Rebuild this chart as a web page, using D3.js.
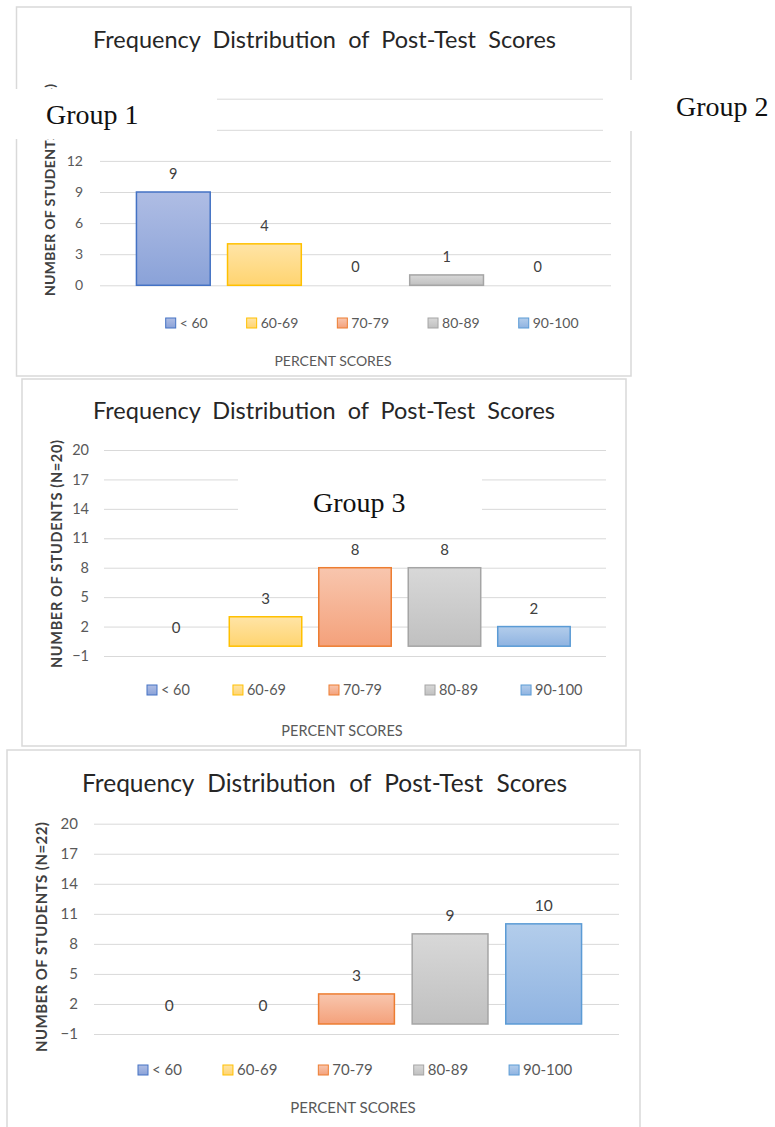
<!DOCTYPE html>
<html lang="en">
<head>
<meta charset="UTF-8">
<title>Frequency Distribution of Post-Test Scores</title>
<script src="https://d3js.org/d3.v7.min.js"></script>
<style>
  body { margin: 0; background: #fff; }
  svg { display: block; }
  text { font-family: Lato, "Open Sans", sans-serif; }
  .group-label { font-family: "Liberation Serif", "Times New Roman", serif; }
</style>
</head>
<body>
<svg id="chart" width="775" height="1127"></svg>
<script>
// data
const categories = ["< 60", "60-69", "70-79", "80-89", "90-100"];
const panel1Counts = [9, 4, 0, 1, 0];
const panel2Counts = [0, 3, 8, 8, 2];
const panel3Counts = [0, 0, 3, 9, 10];
const panel1Ticks = [0, 3, 6, 9, 12, 15, 18];
const panel2Ticks = [-1, 2, 5, 8, 11, 14, 17, 20];
const panel3Ticks = [-1, 2, 5, 8, 11, 14, 17, 20];
const chartTitle = "Frequency Distribution of Post-Test Scores";
const yTitles = ["NUMBER OF STUDENTS (N=14)", "NUMBER OF STUDENTS (N=20)", "NUMBER OF STUDENTS (N=22)"];
const xTitle = "PERCENT SCORES";
const groupLabels = ["Group 1", "Group 2", "Group 3"];

// Office palette, gradient fills
const strokeColors = ["#4472c4", "#ffc000", "#ed7d31", "#a5a5a5", "#5b9bd5"];
const topColors    = ["#afbde4", "#ffe4a6", "#f8c6ae", "#d8d8d8", "#b3cdeb"];
const bottomColors = ["#8aa2d8", "#ffd470", "#f4a17b", "#c0c0c0", "#8fb3e1"];

// layout of each panel (page pixels)
const layouts = [
  { box: [16.5, 7, 614.5, 369], titleX: 324.5, titleY: 40, titleW: 463, titleSize: 23.5,
    x0: 100, x1: 611, yBottom: 285.3, yTop: 98.7, tickRight: 83, fs: 14,
    coveredBelow: 139, coveredAbove: 89,
    legendX: 165.7, legendY: 323, legendGap: 39,
    xTitleX: 333, xTitleY: 361, yTitleX: 50, yTitleY: 190, yTitleLen: 212 },
  { box: [22, 379, 604, 367], titleX: 324, titleY: 411, titleW: 462, titleSize: 23.5,
    x0: 104, x1: 606, yBottom: 656, yTop: 450, tickRight: 89, fs: 14.5,
    coveredBelow: 0, coveredAbove: 0,
    legendX: 147, legendY: 690, legendGap: 43,
    xTitleX: 342, xTitleY: 731, yTitleX: 57, yTitleY: 554, yTitleLen: 228 },
  { box: [7, 750, 633, 400], titleX: 324.5, titleY: 783, titleW: 485, titleSize: 24.5,
    x0: 94, x1: 619, yBottom: 1034, yTop: 823.7, tickRight: 78, fs: 15,
    coveredBelow: 0, coveredAbove: 0,
    legendX: 138, legendY: 1070, legendGap: 41,
    xTitleX: 353, xTitleY: 1108, yTitleX: 42, yTitleY: 937, yTitleLen: 230 }
];

// white label boxes pasted over the charts
const labelBoxes = [
  { x: 0, y: 89, w: 217, h: 50, tx: 46, ty: 124 },
  { x: 603, y: 80, w: 172, h: 51, tx: 676, ty: 116 },
  { x: 238, y: 462, w: 244, h: 66, tx: 313, ty: 512 }
];

const svg = d3.select("#chart");
const defs = svg.append("defs");
categories.forEach((c, i) => {
  const grad = defs.append("linearGradient").attr("id", "grad" + i)
      .attr("x1", 0).attr("y1", 0).attr("x2", 0).attr("y2", 1);
  grad.append("stop").attr("offset", "0%").attr("stop-color", topColors[i]);
  grad.append("stop").attr("offset", "100%").attr("stop-color", bottomColors[i]);
});

function drawPanel(p, counts, ticks, yTitle) {
  const g = svg.append("g");

  g.append("rect").attr("class", "frame")
      .attr("x", p.box[0]).attr("y", p.box[1])
      .attr("width", p.box[2]).attr("height", p.box[3])
      .attr("fill", "#fff").attr("stroke", "#d9d9d9").attr("stroke-width", 1.5);

  // title, stretched with wide word gaps like the original
  const t = g.append("text")
      .attr("x", p.titleX).attr("y", p.titleY).attr("dy", "0.35em")
      .attr("text-anchor", "middle").attr("fill", "#262626")
      .style("font-size", p.titleSize + "px")
      .text(chartTitle);
  const natural = t.node().getComputedTextLength();
  const gaps = chartTitle.split(" ").length - 1;
  t.style("word-spacing", Math.max(0, (p.titleW - natural) / gaps) + "px");

  const y = d3.scaleLinear()
      .domain([ticks[0], ticks[ticks.length - 1]])
      .range([p.yBottom, p.yTop]);
  const x = d3.scaleBand().domain(categories)
      .range([p.x0, p.x1]).paddingInner(0.19).paddingOuter(0.4);

  const ax = g.append("g")
      .attr("transform", "translate(" + p.x0 + ",0)")
      .call(d3.axisLeft(y).tickValues(ticks)
          .tickSize(-(p.x1 - p.x0)).tickPadding(p.x0 - p.tickRight));
  ax.select(".domain").remove();
  ax.selectAll(".tick line").attr("stroke", "#d9d9d9");
  ax.selectAll(".tick text").attr("fill", "#595959").style("font-size", p.fs + "px");
  // labels that sit under a pasted label patch are not visible
  ax.selectAll(".tick text")
    .filter(v => y(v) > p.coveredAbove && y(v) < p.coveredBelow)
    .remove();

  const data = categories.map((c, i) => ({ cat: c, value: counts[i], i: i }));

  g.selectAll("rect.bar")
    .data(data.filter(d => d.value > 0))
    .join("rect")
      .attr("class", "bar")
      .attr("x", d => x(d.cat))
      .attr("width", x.bandwidth())
      .attr("y", d => y(d.value))
      .attr("height", d => y(0) - y(d.value))
      .attr("fill", d => "url(#grad" + d.i + ")")
      .attr("stroke", d => strokeColors[d.i])
      .attr("stroke-width", 1.5);

  g.selectAll("text.val")
    .data(data)
    .join("text")
      .attr("class", "val")
      .attr("x", d => x(d.cat) + x.bandwidth() / 2)
      .attr("y", d => y(d.value) - 18)
      .attr("dy", "0.35em")
      .attr("text-anchor", "middle")
      .attr("fill", "#404040")
      .style("font-size", (p.fs + 0.5) + "px")
      .text(d => d.value);

  // legend, laid out by text width
  let cx = p.legendX;
  categories.forEach((c, i) => {
    g.append("rect")
        .attr("x", cx).attr("y", p.legendY - 5)
        .attr("width", 10).attr("height", 10)
        .attr("fill", "url(#grad" + i + ")")
        .attr("stroke", strokeColors[i]).attr("stroke-width", 1);
    const lt = g.append("text")
        .attr("x", cx + 14).attr("y", p.legendY).attr("dy", "0.35em")
        .attr("fill", "#595959").style("font-size", p.fs + "px")
        .text(c);
    cx += 14 + lt.node().getComputedTextLength() + p.legendGap;
  });

  g.append("text")
      .attr("x", p.xTitleX).attr("y", p.xTitleY).attr("dy", "0.35em")
      .attr("text-anchor", "middle").attr("fill", "#595959")
      .style("font-size", p.fs + "px")
      .text(xTitle);

  g.append("text")
      .attr("transform", "translate(" + p.yTitleX + "," + p.yTitleY + ") rotate(-90)")
      .attr("dy", "0.35em")
      .attr("text-anchor", "middle").attr("fill", "#404040")
      .attr("textLength", p.yTitleLen).attr("lengthAdjust", "spacing")
      .style("font-size", p.fs + "px").style("font-weight", 700)
      .text(yTitle);
}

drawPanel(layouts[0], panel1Counts, panel1Ticks, yTitles[0]);
drawPanel(layouts[1], panel2Counts, panel2Ticks, yTitles[1]);
drawPanel(layouts[2], panel3Counts, panel3Ticks, yTitles[2]);

// group labels on white patches
labelBoxes.forEach((b, i) => {
  svg.append("rect").attr("x", b.x).attr("y", b.y)
      .attr("width", b.w).attr("height", b.h).attr("fill", "#fff");
  svg.append("text").attr("class", "group-label")
      .attr("x", b.tx).attr("y", b.ty)
      .attr("fill", "#111").style("font-size", "28px")
      .text(groupLabels[i]);
});
</script>
</body>
</html>
